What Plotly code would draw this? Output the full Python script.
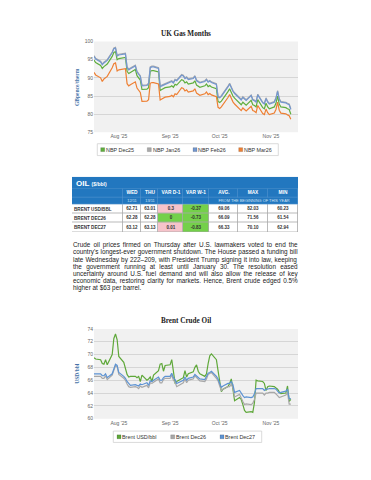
import plotly.graph_objects as go
import pandas as pd

W, H = 371, 480
SANS = "Liberation Sans, Arial, sans-serif"
SERIF = "Liberation Serif, Times New Roman, serif"

# ---------------- data ----------------
dates = pd.bdate_range("2025-07-17", "2025-11-13")

nbp_dec25 = [94.9, 94.2, 93.4, 92.6, 93.1, 93.5, 93.8, 95.9, 97.0, 97.2, 95.0,
             95.3, 95.5, 95.6, 91.8, 91.2, 91.5, 92.3, 90.6, 90.0, 89.4, 86.8, 86.9, 87.3, 91.8, 92.0, 92.0, 91.6, 86.5, 86.8, 87.0, 87.3,
             87.5, 87.8, 87.4, 88.2, 88.0, 89.5, 89.3, 88.6, 88.9, 88.3, 88.6, 89.2, 88.0, 87.6, 87.4, 87.8, 88.3, 87.6, 87.9, 87.5, 87.0, 83.5,
             83.2, 83.6, 84.2, 86.2, 87.0, 85.8, 85.0, 84.4, 83.0, 82.6, 83.3, 82.8, 82.5, 83.8, 82.6, 82.4, 82.0, 84.0, 81.8, 81.5, 83.0, 82.0, 81.5,
             82.0, 83.0, 85.0, 82.8, 82.0, 81.8, 81.5, 81.3, 80.0]
nbp_jan26 = [96.1, 95.4, 94.6, 93.8, 94.3, 94.7, 95.0, 97.1, 98.2, 98.4, 96.2,
             96.5, 96.7, 96.8, 93.0, 92.4, 92.7, 93.5, 91.8, 91.2, 90.6, 88.0, 88.1, 88.5, 93.0, 93.2, 93.2, 92.8, 87.7, 88.0, 88.2, 88.5,
             88.9, 89.2, 88.8, 89.6, 89.4, 90.9, 90.7, 90.0, 90.3, 89.7, 90.0, 90.6, 89.4, 89.0, 88.8, 89.2, 89.7, 89.0, 89.3, 88.9, 88.4, 84.9,
             84.7, 85.1, 85.7, 87.7, 88.5, 87.3, 86.5, 85.9, 84.5, 84.1, 84.8, 84.3, 84.0, 85.3, 84.1, 83.9, 83.5, 85.5, 83.3, 83.0, 84.5, 83.5, 83.0,
             83.5, 84.5, 86.5, 84.3, 83.5, 83.3, 83.0, 82.8, 81.5]
nbp_feb26 = [95.9, 95.2, 94.4, 93.6, 94.1, 94.5, 94.8, 96.9, 98.0, 98.2, 96.0,
             96.3, 96.5, 96.6, 92.8, 92.2, 92.5, 93.3, 91.6, 91.0, 90.4, 87.8, 87.9, 88.3, 92.8, 93.0, 93.0, 92.6, 87.5, 87.8, 88.0, 88.3,
             88.7, 89.0, 88.6, 89.4, 89.2, 90.7, 90.5, 89.8, 90.1, 89.5, 89.8, 90.4, 89.2, 88.8, 88.6, 89.0, 89.5, 88.8, 89.1, 88.7, 88.2, 84.7,
             84.5, 84.9, 85.5, 87.5, 88.3, 87.1, 86.3, 85.7, 84.3, 83.9, 84.6, 84.1, 83.8, 85.1, 83.9, 83.7, 83.3, 85.3, 83.1, 82.8, 84.3, 83.3, 82.8,
             83.3, 84.3, 86.3, 84.1, 83.3, 83.1, 82.8, 82.6, 81.3]
nbp_mar26 = [91.5, 90.8, 90.0, 89.0, 89.7, 90.1, 90.4, 92.8, 93.9, 94.1, 91.9,
             92.2, 92.4, 92.5, 88.4, 87.8, 88.1, 88.9, 87.2, 86.6, 86.0, 83.5, 83.6, 84.0, 88.5, 88.7, 88.7, 88.3, 83.9, 84.2, 84.4, 84.7,
             84.9, 85.2, 84.8, 85.6, 85.4, 87.3, 87.1, 86.4, 86.7, 86.1, 86.4, 87.0, 85.8, 85.4, 85.2, 85.6, 86.1, 85.4, 85.7, 85.3, 84.8, 81.9,
             81.6, 82.0, 82.6, 84.6, 85.4, 84.2, 83.4, 82.8, 81.4, 81.0, 81.7, 81.2, 80.9, 82.2, 81.0, 80.8, 80.4, 82.4, 80.2, 79.9, 81.4, 80.4, 79.9,
             80.3, 81.3, 83.3, 81.1, 80.3, 80.1, 79.8, 79.6, 78.6]

brent_usd = [69.5, 69.3, 69.2, 68.6, 68.5, 69.2, 68.4, 70.0, 72.5, 73.2, 72.3,
             69.7, 68.8, 67.6, 66.9, 66.5, 66.6, 66.6, 66.4, 66.6, 65.8, 66.8, 66.0, 66.2, 66.5, 65.8, 66.8, 67.5, 68.5, 68.6, 67.4, 68.3,
             68.4, 69.2, 67.3, 65.6, 65.8, 66.2, 66.4, 67.5, 66.5, 67.0, 67.3, 68.0, 68.4, 67.4, 67.0, 66.6, 67.0, 68.6, 69.8, 70.1, 69.2, 67.5,
             65.6, 64.2, 64.6, 65.0, 65.5, 66.2, 64.6, 62.8, 63.3, 63.0, 62.2, 61.3, 61.0, 61.1, 61.0, 62.5, 66.0, 65.9, 65.8, 65.5, 64.4, 65.0, 65.1,
             65.0, 64.8, 64.6, 64.2, 63.9, 64.0, 65.1, 62.71, 63.01]
brent_dec26 = [66.6, 66.6, 66.6, 66.3, 66.3, 66.7, 66.1, 66.8, 67.6, 68.3, 68.1,
               66.9, 66.3, 66.0, 65.4, 65.0, 64.9, 65.0, 64.9, 64.7, 65.1, 64.9, 65.2, 64.8, 65.6, 65.5, 65.7, 66.2, 65.6, 65.6, 66.1, 66.3,
               66.3, 66.8, 66.0, 65.7, 65.0, 65.4, 65.6, 66.2, 65.6, 66.0, 66.2, 66.7, 66.4, 66.2, 65.9, 65.8, 66.2, 66.9, 67.0, 67.2, 66.3, 65.9,
               65.1, 64.4, 64.6, 65.0, 65.0, 65.4, 64.8, 63.4, 63.8, 63.1, 62.7, 62.2, 62.3, 62.2, 62.4, 63.0, 64.0, 64.0, 64.0, 63.7, 64.0, 64.0, 64.1,
               64.1, 63.9, 63.6, 63.3, 63.4, 63.7, 64.1, 62.28, 62.28]
brent_dec27 = [67.0, 67.0, 67.0, 66.7, 66.7, 67.0, 66.4, 67.0, 67.8, 68.5, 68.3,
               67.2, 66.6, 66.3, 65.8, 65.4, 65.2, 65.3, 65.2, 65.1, 65.4, 65.3, 65.6, 65.2, 65.9, 65.8, 66.0, 66.5, 66.0, 66.0, 66.4, 66.6,
               66.6, 67.1, 66.4, 66.1, 65.5, 65.8, 66.0, 66.5, 66.0, 66.3, 66.5, 66.9, 66.7, 66.5, 66.2, 66.1, 66.5, 67.1, 67.2, 67.4, 66.6, 66.2,
               65.5, 64.9, 65.1, 65.5, 65.5, 65.8, 65.3, 64.1, 64.4, 63.9, 63.6, 63.3, 63.4, 63.3, 63.4, 63.9, 64.7, 64.7, 64.7, 64.4, 64.6, 64.6, 64.7,
               64.7, 64.6, 64.3, 64.0, 64.1, 64.3, 64.6, 63.12, 63.13]

gas_names = ["NBP Dec25", "NBP Jan26", "NBP Feb26", "NBP Mar26"]
brent_names = ["Brent USD/bbl", "Brent Dec26", "Brent Dec27"]

tbl_rows = ["BRENT USD/BBL", "BRENT DEC26", "BRENT DEC27"]
tbl_cols = ["WED", "THU", "VAR D-1", "VAR W-1", "AVG.", "MAX", "MIN"]
tbl_dates = ["12/11", "13/11"]
wed = [62.71, 62.28, 63.12]
thu = [63.01, 62.28, 63.13]
var_d1 = [0.3, 0, 0.01]
var_w1 = [-0.37, -0.73, -0.83]
avg_ytd = [69.06, 66.09, 66.33]
max_ytd = [82.03, 71.56, 70.10]
min_ytd = [60.23, 61.54, 62.94]

para_lines = [
    "Crude oil prices firmed on Thursday after U.S. lawmakers voted to end the",
    "country's longest-ever government shutdown. The House passed a funding bill",
    "late Wednesday by 222\u2013209, with President Trump signing it into law, keeping",
    "the government running at least until January 30. The resolution eased",
    "uncertainty around U.S. fuel demand and will also allow the release of key",
    "economic data, restoring clarity for markets. Hence, Brent crude edged 0.5%",
    "higher at $63 per barrel.",
]

# ---------------- styles ----------------
GREEN = "#5fae3e"
GRAY = "#a9a9a9"
BLUE = "#7397cf"
ORANGE = "#ee8034"
BGREEN = "#5fa83a"
BGRAY = "#a8a8a8"
BBLUE = "#5d93d3"
HDR_BLUE = "#2277bf"
HDR_LINE = "#5d9bd3"
PINK = "#f6c3ca"
CELL_GREEN = "#74d04a"

fig = go.Figure()

for name, vals, col in zip(gas_names, [nbp_dec25, nbp_jan26, nbp_feb26, nbp_mar26], [GREEN, GRAY, BLUE, ORANGE]):
    fig.add_trace(go.Scatter(x=dates, y=vals, name=name, mode="lines",
                             line=dict(color=col, width=1.2), xaxis="x", yaxis="y", hoverinfo="skip"))
for name, vals, col in zip(brent_names, [brent_usd, brent_dec26, brent_dec27], [BGREEN, BGRAY, BBLUE]):
    fig.add_trace(go.Scatter(x=dates, y=vals, name=name, mode="lines",
                             line=dict(color=col, width=1.2), xaxis="x2", yaxis="y2", hoverinfo="skip"))

# ---------------- table (heatmaps on own axes) ----------------
col_edges = [0, 51, 69, 86, 111, 137, 166, 196, 226]
date_edges = [0, 51, 69, 86, 111, 137, 226]
row_edges = [28, 37.33, 46.67, 56]

# title bar
fig.add_trace(go.Heatmap(x=[0, 226], y=[0, 12], z=[[0]], colorscale=[[0, HDR_BLUE], [1, HDR_BLUE]],
                         showscale=False, hoverinfo="skip", xaxis="x3", yaxis="y3"))
# column header row
fig.add_trace(go.Heatmap(x=col_edges, y=[12, 21], z=[[0] * 8], text=[[""] + tbl_cols],
                         texttemplate="<b>%{text}</b>", textfont=dict(size=4.8, color="white", family=SANS),
                         colorscale=[[0, HDR_BLUE], [1, HDR_BLUE]], showscale=False, hoverinfo="skip",
                         xgap=0.5, ygap=0.5, xaxis="x3", yaxis="y3"))
# dates row
fig.add_trace(go.Heatmap(x=date_edges, y=[21, 28], z=[[0] * 6],
                         text=[[""] + tbl_dates + ["", "", "FROM THE BEGINNING OF THIS YEAR"]],
                         texttemplate="%{text}", textfont=dict(size=3.9, color="#cfe2f5", family=SANS),
                         colorscale=[[0, HDR_BLUE], [1, HDR_BLUE]], showscale=False, hoverinfo="skip",
                         xgap=0.5, ygap=0.5, xaxis="x3", yaxis="y3"))

def cat(v):
    return 1 if v > 0 else 2

z_cells, t_cells = [], []
for i in range(len(tbl_rows)):
    z_cells.append([0, 0, 0, cat(var_d1[i]), cat(var_w1[i]), 0, 0, 0])
    t_cells.append(["", f"{wed[i]:.2f}", f"{thu[i]:.2f}", f"{var_d1[i]:g}", f"{var_w1[i]:g}",
                    f"{avg_ytd[i]:.2f}", f"{max_ytd[i]:.2f}", f"{min_ytd[i]:.2f}"])
fig.add_trace(go.Heatmap(x=col_edges, y=row_edges, z=z_cells, text=t_cells, zmin=0, zmax=2,
                         texttemplate="<b>%{text}</b>", textfont=dict(size=4.5, color="#333333", family=SANS),
                         colorscale=[[0, "#ffffff"], [0.5, PINK], [1, CELL_GREEN]], showscale=False,
                         xgap=0.8, ygap=0.8, hoverinfo="skip", xaxis="x3", yaxis="y3"))

# ---------------- annotations / shapes ----------------
annotations = []
shapes = []

def ann(text, x, y, size, color="#333333", family=SANS, xanchor="left", yanchor="middle", angle=0):
    annotations.append(dict(text=text, x=x / W, y=1 - y / H, xref="paper", yref="paper", showarrow=False,
                            xanchor=xanchor, yanchor=yanchor, textangle=angle, borderpad=0, borderwidth=0,
                            font=dict(size=size, color=color, family=family)))

def rect_px(x0, y0, x1, y1, fill, line="rgba(0,0,0,0)", lw=0):
    shapes.append(dict(type="rect", xref="paper", yref="paper", x0=x0 / W, x1=x1 / W,
                       y0=1 - y1 / H, y1=1 - y0 / H, fillcolor=fill, line=dict(color=line, width=lw), layer="above"))

# chart backgrounds
for xr, yr in [("x domain", "y domain"), ("x2 domain", "y2 domain")]:
    shapes.append(dict(type="rect", xref=xr, yref=yr, x0=0, x1=1, y0=0, y1=1, fillcolor="#f1f1f1",
                       line=dict(width=0), layer="below"))
# table border background + header separators background
shapes.append(dict(type="rect", xref="x3", yref="y3", x0=0, x1=226, y0=28, y1=56, fillcolor="#a9a9a9",
                   line=dict(width=0), layer="below"))
shapes.append(dict(type="rect", xref="x3", yref="y3", x0=0, x1=226, y0=12, y1=28, fillcolor=HDR_LINE,
                   line=dict(width=0), layer="below"))

# titles
ann("<b>UK Gas Months</b>", 185.5, 31, 7.2, "#222222", SERIF, xanchor="center")
ann("<b>Brent Crude Oil</b>", 185.5, 322, 7.2, "#222222", SERIF, xanchor="center")
ann("<b>GBpence/therm</b>", 77, 85, 5.5, "#4572a7", SERIF, xanchor="center", angle=-90)
ann("<b>USD/bbl</b>", 77, 375.5, 5.5, "#4572a7", SERIF, xanchor="center", angle=-90)

# legends
def legend(names, colors, sq_x, yc, box):
    rect_px(box[0], box[1], box[2], box[3], "white", "#cccccc", 0.7)
    for n, c, sx in zip(names, colors, sq_x):
        rect_px(sx - 2, yc - 2, sx + 2, yc + 2, c, "rgba(0,0,0,0.35)", 0.4)
        ann(n, sx + 3.3, yc, 5.4, "#333333")

legend(gas_names, [GREEN, GRAY, BLUE, ORANGE], [102.7, 149.3, 195, 240.7], 148.5, (97.3, 142.5, 278.3, 154.5))
legend(brent_names, [BGREEN, BGRAY, BBLUE], [119, 172.7, 222], 439.3, (113.3, 433.5, 261.7, 445))

# table title + row labels
annotations.append(dict(text="<b>OIL</b> <span style='font-size:5px'><b>($/bbl)</b></span>", x=4, y=6.3,
                        xref="x3", yref="y3", showarrow=False, xanchor="left", yanchor="middle",
                        borderpad=0, borderwidth=0, font=dict(size=8, color="white", family=SANS)))
for i, lab in enumerate(tbl_rows):
    annotations.append(dict(text=f"<b>{lab}</b>", x=1.5, y=(row_edges[i] + row_edges[i + 1]) / 2,
                            xref="x3", yref="y3", showarrow=False, xanchor="left", yanchor="middle",
                            borderpad=0, borderwidth=0, font=dict(size=4.6, color="#333333", family=SANS)))

# justified paragraph (one annotation per line, word-spacing stretches to full width)
AW = {' ': 278, '!': 278, "'": 191, '(': 333, ')': 333, ',': 278, '-': 333, '.': 278, '/': 278, ':': 278,
      '%': 889, '$': 556, '\u2013': 556,
      'A': 667, 'B': 667, 'C': 722, 'D': 722, 'E': 667, 'F': 611, 'G': 778, 'H': 722, 'I': 278, 'J': 500,
      'K': 667, 'L': 556, 'M': 833, 'N': 722, 'O': 778, 'P': 667, 'Q': 778, 'R': 722, 'S': 667, 'T': 611,
      'U': 722, 'V': 667, 'W': 944, 'X': 667, 'Y': 667, 'Z': 611,
      'a': 556, 'b': 556, 'c': 500, 'd': 556, 'e': 556, 'f': 278, 'g': 556, 'h': 556, 'i': 222, 'j': 222,
      'k': 500, 'l': 222, 'm': 833, 'n': 556, 'o': 556, 'p': 556, 'q': 556, 'r': 333, 's': 500, 't': 278,
      'u': 556, 'v': 500, 'w': 722, 'x': 500, 'y': 500, 'z': 500}
PSIZE = 6.4
PX0, PX1 = 72.5, 297.5
def tw(s):
    return sum(AW.get(ch, 556) for ch in s) * PSIZE / 1000.0

for li, line in enumerate(para_lines):
    yc = 245.4 + li * 7.2
    if li == len(para_lines) - 1:
        ann(line, PX0, yc, PSIZE, "#222222")
        continue
    nsp = line.count(" ")
    extra = (PX1 - PX0 - tw(line)) / nsp
    ann(f"<span style='word-spacing:{extra:.3f}px'>{line}</span>", PX0, yc, PSIZE, "#222222")

# ---------------- layout ----------------
def xdate(domain, anchor):
    return dict(domain=domain, anchor=anchor, type="date", range=["2025-07-17", "2025-11-17 08:00"],
                tick0="2025-08-01", dtick="M1", tickformat="%b '%y", showgrid=False, zeroline=False,
                showline=False, ticks="", tickfont=dict(size=5, color="#666666", family=SANS), fixedrange=True)

def yval(domain, anchor, rng, dt):
    return dict(domain=domain, anchor=anchor, range=rng, dtick=dt, showgrid=True, gridcolor="#d6d6d6",
                gridwidth=0.8, zeroline=False, showline=False, ticks="",
                tickfont=dict(size=5, color="#666666", family=SANS), fixedrange=True)

fig.update_layout(
    width=W, height=H, autosize=False, margin=dict(l=0, r=0, t=0, b=0),
    paper_bgcolor="white", plot_bgcolor="rgba(0,0,0,0)", showlegend=False,
    font=dict(family=SANS),
    xaxis=xdate([94 / W, 298 / W], "y"),
    yaxis=yval([1 - 131 / H, 1 - 39 / H], "x", [75, 100], 5),
    xaxis2=xdate([94 / W, 298 / W], "y2"),
    yaxis2=yval([1 - 421 / H, 1 - 330 / H], "x2", [60, 74], 2),
    xaxis3=dict(domain=[72 / W, 298 / W], anchor="y3", range=[0, 226], visible=False, fixedrange=True),
    yaxis3=dict(domain=[1 - 232 / H, 1 - 176 / H], anchor="x3", range=[56, 0], visible=False, fixedrange=True),
    annotations=annotations, shapes=shapes,
)

fig.write_html("out.html")
